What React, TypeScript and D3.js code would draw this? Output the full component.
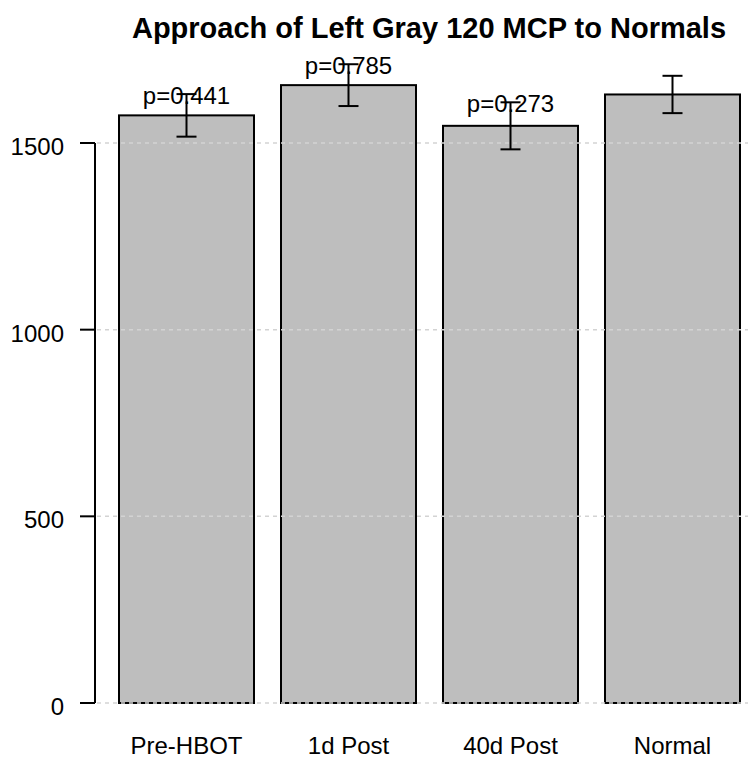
import * as d3 from "d3";

// values
const categories = ["Pre-HBOT", "1d Post", "40d Post", "Normal"];
const means = [1574, 1655, 1546, 1630];
const errors = [57, 56, 63, 50];
const pLabels = ["p=0.441", "p=0.785", "p=0.273", ""];
const yTicks = [0, 500, 1000, 1500];

const W = 748;
const H = 762;
const FONT = "'Liberation Sans', Arial, Helvetica, sans-serif";

export default function App() {
  const x = d3
    .scaleBand<string>()
    .domain(categories)
    .range([105.5, 753.5])
    .paddingInner(1 / 6)
    .paddingOuter(1 / 12);
  const y = d3.scaleLinear().domain([0, 1500]).range([703, 143]);
  const axisX = 95;
  const cap = 10;

  return (
    <div style={{ position: "absolute", left: 0, top: 0 }}>
      <svg width={W} height={H} style={{ display: "block", background: "white" }} fontFamily={FONT}>
        {/* 제목 */}
        <text x={429} y={38} textAnchor="middle" fontSize={29} fontWeight="bold">
          Approach of Left Gray 120 MCP to Normals
        </text>

        {/* 막대 */}
        {categories.map((c, i) => (
          <rect
            key={c}
            x={x(c)!}
            y={y(means[i])}
            width={x.bandwidth()}
            height={y(0) - y(means[i])}
            fill="#bebebe"
            stroke="black"
            strokeWidth={2}
          />
        ))}

        {/* 그리드 (막대 위에) */}
        {yTicks.map((t) => (
          <line
            key={t}
            x1={axisX + 2}
            x2={W}
            y1={y(t)}
            y2={y(t)}
            stroke="#d3d3d3"
            strokeWidth={1.5}
            strokeDasharray="4,4"
          />
        ))}

        {/* 오차 막대 */}
        {categories.map((c, i) => {
          const cx = x(c)! + x.bandwidth() / 2;
          const hi = y(means[i] + errors[i]);
          const lo = y(means[i] - errors[i]);
          return (
            <g key={c} stroke="black" strokeWidth={2}>
              <line x1={cx} x2={cx} y1={hi} y2={lo} />
              <line x1={cx - cap} x2={cx + cap} y1={hi} y2={hi} />
              <line x1={cx - cap} x2={cx + cap} y1={lo} y2={lo} />
            </g>
          );
        })}

        {/* p 값 */}
        {categories.map((c, i) =>
          pLabels[i] ? (
            <text
              key={c}
              x={x(c)! + x.bandwidth() / 2}
              y={y(means[i] + errors[i]) + 10}
              textAnchor="middle"
              fontSize={24}
            >
              {pLabels[i]}
            </text>
          ) : null
        )}

        {/* y축 */}
        <line x1={axisX} x2={axisX} y1={y(0)} y2={y(1500)} stroke="black" strokeWidth={2} />
        {yTicks.map((t) => (
          <g key={t}>
            <line x1={axisX - 15} x2={axisX} y1={y(t)} y2={y(t)} stroke="black" strokeWidth={2} />
            <text x={64} y={y(t) + 12} textAnchor="end" fontSize={24}>
              {t}
            </text>
          </g>
        ))}

        {/* x 라벨 */}
        {categories.map((c) => (
          <text key={c} x={x(c)! + x.bandwidth() / 2} y={754} textAnchor="middle" fontSize={24}>
            {c}
          </text>
        ))}
      </svg>
    </div>
  );
}
